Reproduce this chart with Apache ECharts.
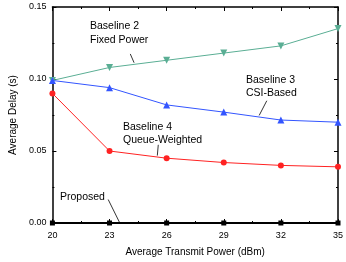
<!DOCTYPE html>
<html><head><meta charset="utf-8">
<script src="https://cdn.jsdelivr.net/npm/echarts@6/dist/echarts.min.js"></script>
<style>html,body{margin:0;padding:0;background:#fff}#c{width:346px;height:262px}</style>
</head><body><div id="c"></div>
<script>
const powers = [20, 23, 26, 29, 32, 35];
const proposed = [0, 0, 0, 0, 0, 0];
const baseline2 = [0.099, 0.108, 0.113, 0.118, 0.123, 0.135];
const baseline3 = [0.099, 0.094, 0.082, 0.077, 0.0715, 0.070];
const baseline4 = [0.090, 0.050, 0.045, 0.042, 0.040, 0.039];
const yTicks = [0, 0.05, 0.10, 0.15];
// annotation arrows: [fromPower, fromDelay, toPower, toDelay]
const arrowB2 = [24.09, 0.1174, 24.29, 0.1113];
const arrowB3 = [31.26, 0.0849, 30.86, 0.0747];
const arrowB4 = [25.56, 0.0543, 25.51, 0.0468];
const arrowP  = [22.93, 0.0163, 23.54, 0.0];

const X0 = 20;
const pairs = arr => powers.map((p, i) => [p - X0, arr[i]]);
const arrow = a => ({
  silent: true, symbol: ['none', 'arrow'], symbolSize: [0, 6], animation: false,
  label: {show: false}, lineStyle: {color: '#000', width: 0.8, type: 'solid'},
  data: [[{coord: [a[0] - X0, a[1]]}, {coord: [a[2] - X0, a[3]]}]]
});
const font = 'Liberation Sans, Arial, sans-serif';
const axisCommon = {
  axisLine: {show: true, onZero: false, lineStyle: {color: '#000', width: 1.5}},
  axisTick: {show: true, inside: true, length: 4, lineStyle: {color: '#000', width: 1}},
  minorTick: {show: true, splitNumber: 2, length: 2, lineStyle: {color: '#000', width: 1}},
  splitLine: {show: false}
};
const chart = echarts.init(document.getElementById('c'), null, {renderer: 'canvas'});
const series = (name, data, color, symbol, size, arr) => ({
  name, type: 'line', data: pairs(data), symbol, symbolSize: size,
  lineStyle: {color, width: 1}, itemStyle: {color}, animation: false, z: 3,
  markLine: arrow(arr)
});
const txt = (x, y, t) => ({type: 'text', left: x, top: y, style: {text: t, font: '10.5px ' + font, fill: '#000'}});
chart.setOption({
  animation: false,
  grid: {left: 42, right: 7, top: 7, bottom: 35},
  xAxis: [
    Object.assign({type: 'value', min: 0, max: 15, interval: 3, position: 'bottom',
      name: 'Average Transmit Power (dBm)', nameLocation: 'middle', nameGap: 24,
      nameTextStyle: {fontFamily: font, fontSize: 10, color: '#000'},
      axisLabel: {fontFamily: font, fontSize: 9, color: '#000', margin: 8, formatter: v => String(v + X0)}}, axisCommon),
    Object.assign({type: 'value', min: 0, max: 15, interval: 3, position: 'top', axisLabel: {show: false}}, axisCommon)
  ],
  yAxis: [
    Object.assign({type: 'value', min: yTicks[0], max: yTicks[yTicks.length - 1], interval: 0.05,
      name: 'Average Delay (s)', nameLocation: 'middle', nameGap: 31,
      nameTextStyle: {fontFamily: font, fontSize: 10, color: '#000'},
      axisLabel: {fontFamily: font, fontSize: 9, color: '#000', margin: 6, formatter: v => v.toFixed(2)}}, axisCommon),
    Object.assign({type: 'value', min: 0, max: 0.15, interval: 0.05, position: 'right', axisLabel: {show: false}}, axisCommon)
  ],
  series: [
    Object.assign(series('Baseline 2', baseline2, '#5aae94', 'triangle', 7, arrowB2), {symbolRotate: 180}),
    series('Baseline 3', baseline3, '#3355ff', 'triangle', 7, arrowB3),
    series('Baseline 4', baseline4, '#ff2222', 'circle', 6, arrowB4),
    Object.assign(series('Proposed', proposed, '#000000', 'rect', 5, arrowP), {lineStyle: {color: '#000', width: 2}})
  ],
  graphic: [
    txt(90, 21, 'Baseline 2'), txt(90, 35, 'Fixed Power'),
    txt(246, 75, 'Baseline 3'), txt(246, 88, 'CSI-Based'),
    txt(123, 122, 'Baseline 4'), txt(123, 135, 'Queue-Weighted'),
    txt(60, 192, 'Proposed')
  ]
});
</script></body></html>
